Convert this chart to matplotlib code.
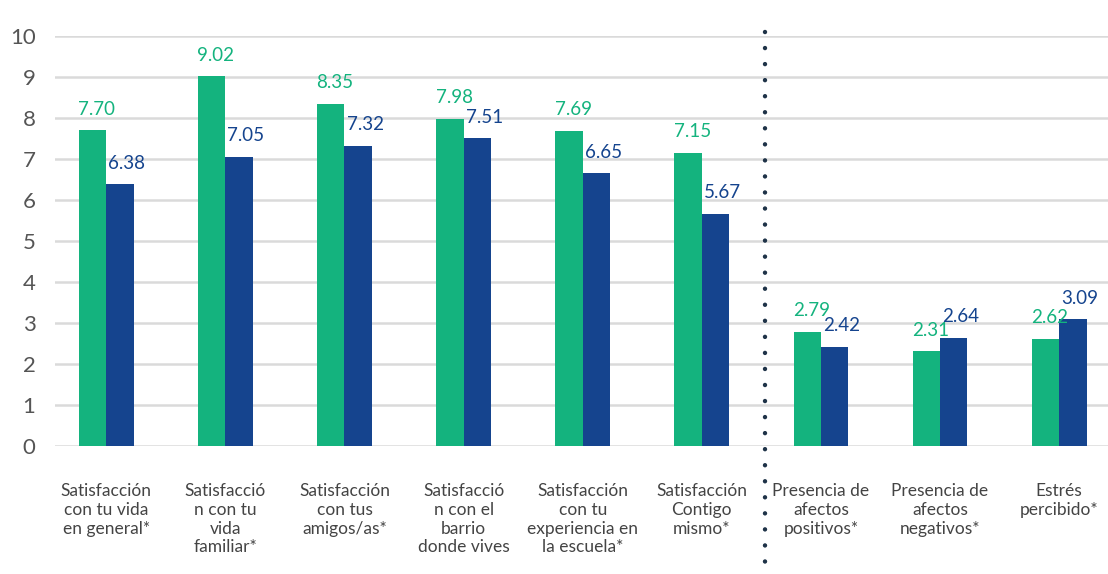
import matplotlib
matplotlib.use("Agg")
import matplotlib.pyplot as plt
import numpy as np

categories = [
    "Satisfacción\ncon tu vida\nen general*",
    "Satisfacció\nn con tu\nvida\nfamiliar*",
    "Satisfacción\ncon tus\namigos/as*",
    "Satisfacció\nn con el\nbarrio\ndonde vives",
    "Satisfacción\ncon tu\nexperiencia en\nla escuela*",
    "Satisfacción\nContigo\nmismo*",
    "Presencia de\nafectos\npositivos*",
    "Presencia de\nafectos\nnegativos*",
    "Estrés\npercibido*",
]
serie_a = [7.70, 9.02, 8.35, 7.98, 7.69, 7.15, 2.79, 2.31, 2.62]
serie_b = [6.38, 7.05, 7.32, 7.51, 6.65, 5.67, 2.42, 2.64, 3.09]
yticks = list(range(0, 11))

GREEN = "#14b37e"
BLUE = "#15448e"
plt.rcParams["font.family"] = ["Lato", "DejaVu Sans"]

fig = plt.figure(figsize=(11.08, 5.74), dpi=100)
ax = fig.add_axes([55 / 1108, 1 - 446 / 574, 1 - 55 / 1108, 410 / 574])

x = np.arange(len(categories))
w = 0.23
ax.bar(x - w / 2, serie_a, w, color=GREEN, zorder=3)
ax.bar(x + w / 2, serie_b, w, color=BLUE, zorder=3)

for i in range(len(x)):
    ax.annotate(f"{serie_a[i]:.2f}", (x[i] - w / 2, serie_a[i]), textcoords="offset points",
                xytext=(3, 9), ha="center", va="bottom", fontsize=13.5, color=GREEN)
    ax.annotate(f"{serie_b[i]:.2f}", (x[i] + w / 2, serie_b[i]), textcoords="offset points",
                xytext=(5, 9), ha="center", va="bottom", fontsize=13.5, color=BLUE)

ax.set_xlim(-0.43, 8.41)
ax.set_ylim(0, 10)
ax.set_yticks(yticks)
ax.set_yticklabels([str(t) for t in yticks], fontsize=16, color="#555555")
ax.tick_params(axis="y", length=0, pad=14)
ax.set_xticks(x)
ax.set_xticklabels(categories, fontsize=12.5, color="#444444", linespacing=1.2, va="top")
ax.tick_params(axis="x", length=0, pad=27)
ax.grid(axis="y", color="#dadada", lw=1.8, zorder=0)
for s in ax.spines.values():
    s.set_visible(False)

# dotted separator between groups of indicators
ax.plot([5.53, 5.53], [10.1, -3.1], ls=(0, (0.01, 3.6)), lw=3.2, color="#1f3348",
        solid_capstyle="round", dash_capstyle="round", clip_on=False, zorder=4)

fig.savefig("out.png", dpi=100)
